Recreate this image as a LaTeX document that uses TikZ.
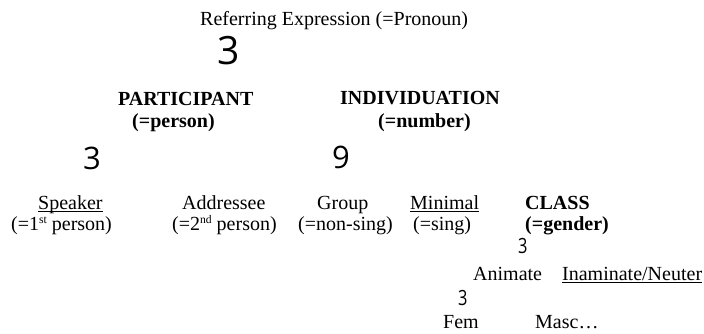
\documentclass[tikz,border=0pt]{standalone}
\usepackage{fontspec}
\setmainfont{Liberation Serif}
\newfontfamily\digitfont{Open Sans}
\newcommand{\myul}[1]{\setbox0\hbox{#1}\rlap{\vrule height -1.8pt depth 3pt width \wd0}\box0}
\newcommand{\mysup}[1]{\raisebox{0.33em}{\fontsize{11.6}{12}\selectfont #1}}
\begin{document}
\begin{tikzpicture}[x=1pt,y=-1pt,
  lbl/.style={inner sep=0pt, anchor=base west, font=\fontsize{20}{24}\selectfont},
  blbl/.style={lbl, font=\fontsize{20}{24}\selectfont\bfseries},
  bigthree/.style={inner sep=0pt, anchor=base west, font=\fontsize{39}{44}\selectfont\digitfont},
  midthree/.style={inner sep=0pt, anchor=base west, font=\fontsize{31}{36}\selectfont\digitfont},
  smallthree/.style={inner sep=0pt, anchor=base west, xscale=0.78, font=\fontsize{21}{24}\selectfont\digitfont}]
\useasboundingbox (0,0) rectangle (704,334);
\fill[white] (0,0) rectangle (704,334);
\node[lbl] (ref) at (200,26) {Referring Expression (=Pronoun)};
\node[bigthree] (t1) at (217,65) {3};
\node[blbl] (part) at (118,106) {PARTICIPANT};
\node[blbl] (partg) at (132,128) {(=person)};
\node[blbl] (ind) at (340,105) {INDIVIDUATION};
\node[blbl] (indg) at (378,128) {(=number)};
\node[midthree] (t2) at (83,169) {3};
\node[midthree] (n1) at (332,168) {9};
\node[lbl] (spk) at (38,209) {\myul{Speaker}};
\node[lbl] (spkg) at (11,230) {(=1\mysup{st} person)};
\node[lbl] (adr) at (182,209) {Addressee};
\node[lbl] (adrg) at (172,230) {(=2\mysup{nd} person)};
\node[lbl] (grp) at (317,209) {Group};
\node[lbl] (grpg) at (298,230) {(=non-sing)};
\node[lbl] (min) at (410,209) {\myul{Minimal}};
\node[lbl] (ming) at (413,230) {(=sing)};
\node[blbl] (cls) at (525,209) {CLASS};
\node[blbl] (clsg) at (525,230) {(=gender)};
\node[smallthree] (t3) at (518,253) {3};
\node[lbl] (anim) at (473,280) {Animate};
\node[lbl] (inan) at (562,280) {\myul{Inaminate/Neuter}};
\node[smallthree] (t4) at (458,305) {3};
\node[lbl] (fem) at (443,328) {Fem};
\node[lbl] (masc) at (535,328) {Masc…};
\end{tikzpicture}
\end{document}
